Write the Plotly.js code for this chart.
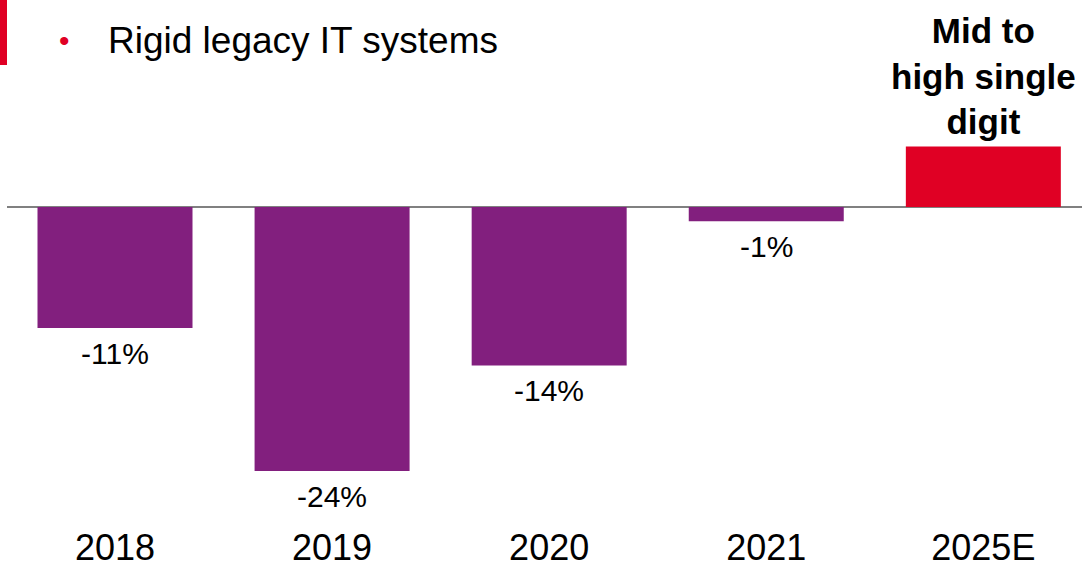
<!DOCTYPE html>
<html>
<head>
<meta charset="utf-8">
<script src="https://cdn.plot.ly/plotly-3.0.1.min.js"></script>
<style>html,body{margin:0;padding:0;background:#fff;}#chart{width:1082px;height:568px;}</style>
</head>
<body>
<div id="chart"></div>
<script>
const categories = ["2018", "2019", "2020", "2021", "2025E"];
const values = [-11, -24, -14.4, -1.3, 5.5];
const valueLabels = ["-11%", "-24%", "-14%", "-1%", ""];
const highlightLabel = "Mid to<br>high single<br>digit";
const headline = "Rigid legacy IT systems";

const purple = "#821F7E";
const red = "#E00024";
const barColors = categories.map((c, i) => values[i] >= 0 ? red : purple);

const plotH = 523;
const annotations = [];
categories.forEach((c, i) => {
  if (valueLabels[i]) {
    annotations.push({
      x: i, y: values[i], xref: "x", yref: "y",
      text: valueLabels[i], showarrow: false,
      yanchor: "middle", yshift: -25,
      font: {family: "Liberation Sans, Arial, sans-serif", size: 30, color: "#000"}
    });
  }
});
annotations.push({
  x: 4, y: values[4], xref: "x", yref: "y",
  text: "<b>" + highlightLabel + "</b>", showarrow: false,
  yanchor: "bottom", yshift: 4, align: "center",
  font: {family: "Liberation Sans, Arial, sans-serif", size: 35, color: "#000"}
});
annotations.push({
  x: (64 - 7) / 1075, y: 1 - 41 / plotH, xref: "paper", yref: "paper",
  text: "•", showarrow: false, xanchor: "center", yanchor: "middle",
  font: {family: "Liberation Sans, Arial, sans-serif", size: 30, color: red}
});
annotations.push({
  x: (106 - 7) / 1075, y: 1 - 41 / plotH, xref: "paper", yref: "paper",
  text: headline, showarrow: false, xanchor: "left", yanchor: "middle",
  font: {family: "Liberation Sans, Arial, sans-serif", size: 37, color: "#000"}
});

const data = [{
  type: "bar",
  x: categories,
  y: values,
  marker: {color: barColors},
  hoverinfo: "none"
}];

const layout = {
  width: 1082, height: 568,
  margin: {l: 7, r: 0, t: 0, b: 568 - plotH, pad: 0},
  paper_bgcolor: "#fff", plot_bgcolor: "#fff",
  showlegend: false,
  bargap: 0.286,
  xaxis: {
    type: "category",
    range: [-0.4975, 4.4545],
    showgrid: false, zeroline: false, showline: false,
    ticks: "",
    tickfont: {family: "Liberation Sans, Arial, sans-serif", size: 36, color: "#000"},
    fixedrange: true
  },
  yaxis: {
    range: [-(plotH - 207) / 11, 207 / 11],
    showgrid: false, showticklabels: false, ticks: "",
    zeroline: true, zerolinecolor: "#808080", zerolinewidth: 2,
    showline: false, fixedrange: true
  },
  shapes: [{
    type: "rect", xref: "paper", yref: "paper",
    x0: -7 / 1075, x1: 0, y0: 1 - 65 / plotH, y1: 1,
    fillcolor: red, line: {width: 0}
  }],
  annotations: annotations
};

Plotly.newPlot("chart", data, layout, {displayModeBar: false, staticPlot: true});
</script>
</body>
</html>
